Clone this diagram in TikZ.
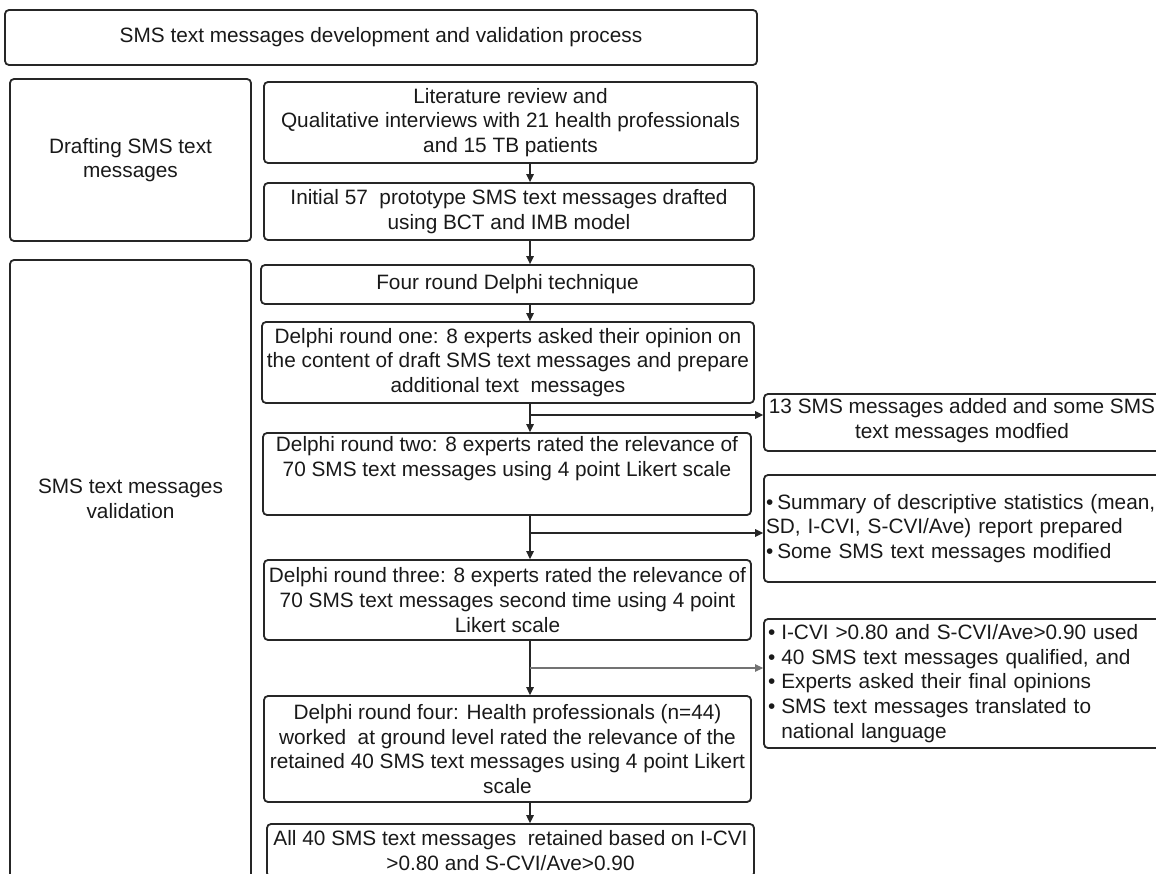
\documentclass[tikz,border=0pt]{standalone}
\usepackage{fontspec}
\setmainfont{Liberation Sans}
\usetikzlibrary{arrows.meta}
\begin{document}
\begin{tikzpicture}[x=1pt,y=-1pt,
  box/.style={draw=black!85, line width=1.8pt, rounded corners=4pt, inner sep=0pt,
    align=center, font=\fontsize{20.8}{24.6}\selectfont, text=black!90},
  lbl/.style={inner sep=0pt, align=center, font=\fontsize{20.8}{24.6}\selectfont, text=black!90},
  arr/.style={draw=black!85, line width=1.4pt, -{Triangle[length=8pt,width=7.5pt]}}]
\useasboundingbox (0,0) rectangle (1156,874);
\clip (0,0) rectangle (1156,874);

% heading
\node[box, minimum width=752pt, minimum height=55pt] (title) at (381,37.5)
  {SMS text messages development and validation process};

% phase boxes on the left
\node[box, minimum width=241pt, minimum height=162pt] (draft) at (130.5,160)
  {Drafting SMS text\\messages};
\node[box, minimum width=241pt, minimum height=640pt] (valid) at (130.5,580) {};
\node[lbl] (validtxt) at (130.5,499) {SMS text messages\\validation};

% main column
\node[box, minimum width=493pt, minimum height=81pt] (lit) at (510.5,122.5)
  {Literature review and\\Qualitative interviews with 21 health professionals\\and 15 TB patients};
\node[box, minimum width=490pt, minimum height=57pt] (init) at (509,211.5)
  {Initial 57\ \ prototype SMS text messages drafted\\using BCT and IMB model};
\node[box, minimum width=493pt, minimum height=39pt] (four) at (507.5,284.5)
  {Four round Delphi technique};
\node[box, minimum width=492pt, minimum height=81pt] (d1) at (508,362.5)
  {Delphi round one: 8 experts asked their opinion on\\the content of draft SMS text messages and prepare\\additional text\ \ messages};
\node[box, minimum width=488pt, minimum height=82pt] (d2) at (507,474)
  {Delphi round two: 8 experts rated the relevance of\\70 SMS text messages using 4 point Likert scale\\[10pt]};
\node[box, minimum width=487pt, minimum height=80pt] (d3) at (507.5,600)
  {Delphi round three: 8 experts rated the relevance of\\70 SMS text messages second time using 4 point\\Likert scale};
\node[box, minimum width=487pt, minimum height=106pt] (d4) at (507.5,749)
  {Delphi round four: Health professionals (n=44)\\worked\ \ at ground level rated the relevance of the\\retained 40 SMS text messages using 4 point Likert\\scale};
\node[box, minimum width=487pt, minimum height=53pt] (all) at (510.5,850.5)
  {All 40 SMS text messages\ \ retained based on I-CVI\\>0.80 and S-CVI/Ave>0.90};

% outcome boxes on the right
\node[box, minimum width=396pt, minimum height=57pt] (r1) at (962,422.5)
  {13 SMS messages added and some SMS\\text messages modfied\\[-17pt]};
\node[box, align=left, text width=392pt, minimum width=396pt, minimum height=107pt] (r2) at (962,528.5)
  {\mbox{•\hspace{4pt}Summary of descriptive statistics (mean,}\\
   \mbox{SD, I-CVI, S-CVI/Ave) report prepared}\\
   \mbox{•\hspace{4pt}Some SMS text messages modified}};
\node[box, align=left, text width=388pt, minimum width=396pt, minimum height=129pt] (r3) at (962,683.5)
  {\mbox{•\hspace{6pt}I-CVI >0.80 and S-CVI/Ave>0.90 used}\\
   \mbox{•\hspace{6pt}40 SMS text messages qualified, and}\\
   \mbox{•\hspace{6pt}Experts asked their final opinions}\\
   \mbox{•\hspace{6pt}SMS text messages translated to}\\
   \mbox{\phantom{•}\hspace{6pt}national language}};

% flow axis and branch points
\coordinate (ax) at (530,0);
\coordinate (j1) at (530,415);
\coordinate (j2) at (530,533);
\coordinate (j3) at (530,668);

\draw[arr] (lit.south -| ax) -- (init.north -| ax);
\draw[arr] (init.south -| ax) -- (four.north -| ax);
\draw[arr] (four.south -| ax) -- (d1.north -| ax);
\draw[arr] (d1.south -| ax) -- (d2.north -| ax);
\draw[arr] (d2.south -| ax) -- (d3.north -| ax);
\draw[arr] (d3.south -| ax) -- (d4.north -| ax);
\draw[arr] (d4.south -| ax) -- (all.north -| ax);

\draw[arr] (j1) -- (j1 -| r1.west);
\draw[arr] (j2) -- (j2 -| r2.west);
\draw[arr, draw=black!55, line width=1.1pt] (j3) -- (j3 -| r3.west);
\end{tikzpicture}
\end{document}
